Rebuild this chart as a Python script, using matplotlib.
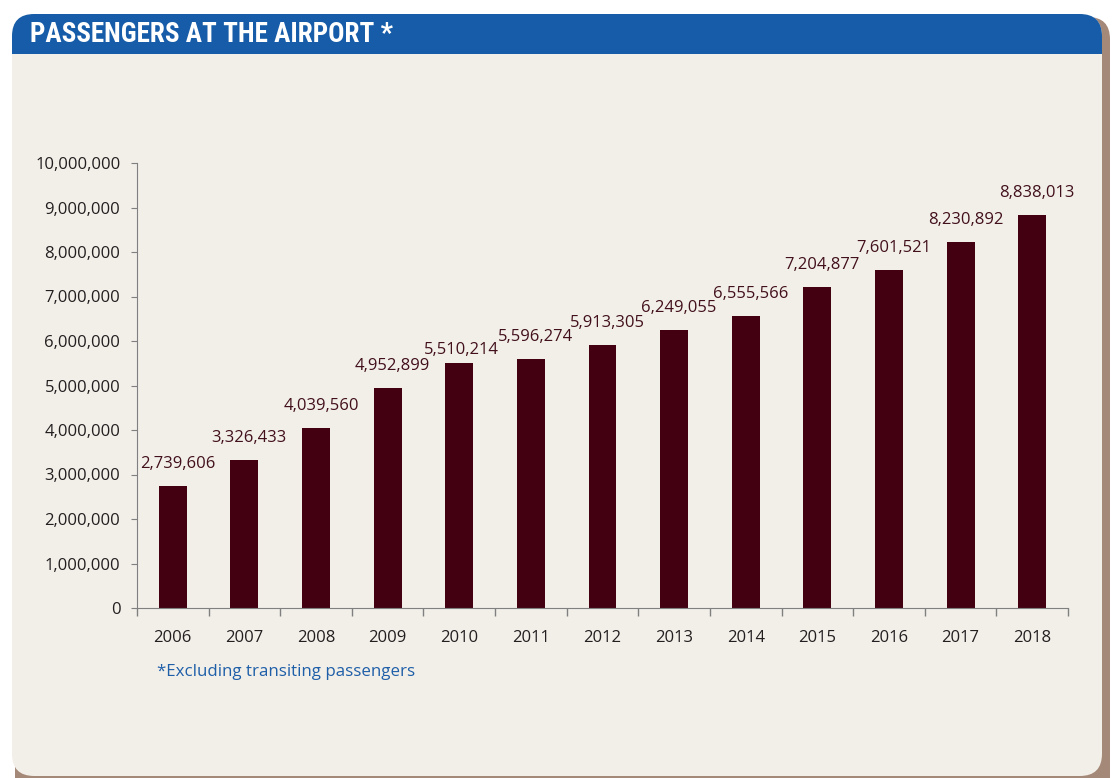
import matplotlib.pyplot as plt
from matplotlib.patches import FancyBboxPatch, Rectangle
from matplotlib.ticker import FuncFormatter

years = ['2006', '2007', '2008', '2009', '2010', '2011', '2012',
         '2013', '2014', '2015', '2016', '2017', '2018']
passengers = [2739606, 3326433, 4039560, 4952899, 5510214, 5596274, 5913305,
              6249055, 6555566, 7204877, 7601521, 8230892, 8838013]

W, H = 1112, 778
fig = plt.figure(figsize=(W / 100, H / 100), dpi=100)
fig.patch.set_facecolor('white')

def fx(x):
    return x / W

def fy(y):
    return 1 - y / H

beige = '#f2efe9'
blue = '#165ca8'

# shadow + panel
shadow = FancyBboxPatch((fx(15), fy(800)), fx(1095), fy(17) - fy(800),
                        boxstyle='round,pad=0,rounding_size=0.02',
                        transform=fig.transFigure, fc='#a48878', ec='none',
                        mutation_aspect=W / H, zorder=0)
fig.patches.append(shadow)
panel = FancyBboxPatch((fx(12), fy(776)), fx(1090), fy(14) - fy(776),
                       boxstyle='round,pad=0,rounding_size=0.02',
                       transform=fig.transFigure, fc=beige, ec='none',
                       mutation_aspect=W / H, zorder=1)
fig.patches.append(panel)
header = FancyBboxPatch((fx(12), fy(90)), fx(1090), fy(14) - fy(90),
                        boxstyle='round,pad=0,rounding_size=0.02',
                        transform=fig.transFigure, fc=blue, ec='none',
                        mutation_aspect=W / H, zorder=2)
fig.patches.append(header)
fig.patches.append(Rectangle((fx(12), fy(100)), fx(1090), fy(54) - fy(100),
                             transform=fig.transFigure, fc=beige, ec='none',
                             zorder=3))

fig.text(fx(30), fy(35), 'PASSENGERS AT THE AIRPORT *', color='white',
         fontsize=19.5, fontweight='bold', va='center', ha='left',
         family=['Roboto Condensed', 'Roboto', 'DejaVu Sans'], zorder=5)

ax = fig.add_axes([fx(137), fy(608), fx(1068) - fx(137), fy(163) - fy(608)])
ax.set_facecolor('none')
ax.set_zorder(5)

x = range(len(years))
ax.bar(x, passengers, width=0.39, color='#420011')
for i, v in enumerate(passengers):
    # the 2010 label sits lower so it does not run into 2011's
    off = (1.5, 3.5) if years[i] == '2010' else (3.5, 10)
    ax.annotate(f'{v:,}', (i, v), xytext=off, textcoords='offset points',
                ha='center', va='bottom', fontsize=12, color='#42101b',
                family='Open Sans')

ax.set_xlim(-0.5, len(years) - 0.5)
ax.set_ylim(0, 10000000)
ax.set_yticks(range(0, 10000001, 1000000))
ax.yaxis.set_major_formatter(FuncFormatter(lambda v, p: f'{int(v):,}'))
ax.set_xticks([i - 0.5 for i in range(len(years) + 1)])
ax.set_xticklabels([])
ax.set_xticks(list(x), minor=True)
ax.set_xticklabels(years, minor=True)
ax.tick_params(axis='x', which='major', length=6, color='#808080', width=1)
ax.tick_params(axis='x', which='minor', length=0, pad=16, labelsize=12,
               labelcolor='#231f20')
ax.tick_params(axis='y', length=4, color='#808080', labelsize=12,
               labelcolor='#231f20', pad=8)
for lbl in ax.get_xticklabels(minor=True) + ax.get_yticklabels():
    lbl.set_family('Open Sans')
for s in ['top', 'right']:
    ax.spines[s].set_visible(False)
for s in ['left', 'bottom']:
    ax.spines[s].set_color('#808080')

fig.text(fx(157), fy(672), '*Excluding transiting passengers', color='#1f5fa8',
         fontsize=12.2, va='center', ha='left', family='Open Sans', zorder=5)

fig.savefig('out.png', dpi=100, facecolor=fig.get_facecolor())
